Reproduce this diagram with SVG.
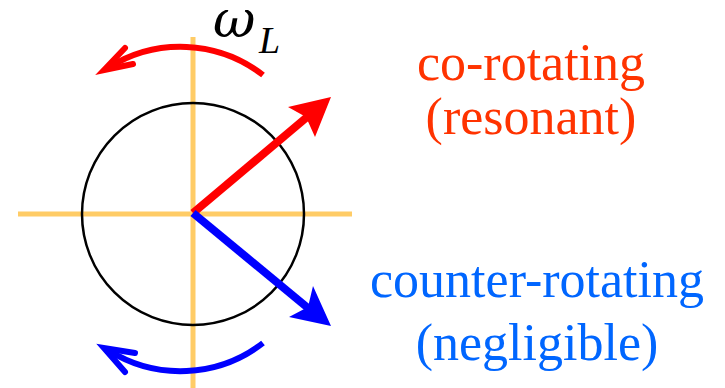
<svg xmlns="http://www.w3.org/2000/svg" width="725" height="388" viewBox="0 0 725 388">
<style>
.axis{stroke:#FFCC66;stroke-width:5;fill:none}
.lbl{font-family:"Liberation Serif","Times New Roman",Tinos,"DejaVu Serif",serif;font-size:52px;text-anchor:middle}
.arc{fill:none;stroke-width:6;stroke-linecap:butt}
</style>
<rect width="725" height="388" fill="#fff"/>
<g id="axes">
<line class="axis" x1="18" y1="214" x2="352" y2="214"/>
<line class="axis" x1="193" y1="37" x2="193" y2="388"/>
</g>
<g id="circle">
<circle cx="193" cy="214" r="111" fill="none" stroke="#000" stroke-width="2.5"/>
</g>
<g id="connectors">
<g id="co-vector">
<line x1="193" y1="213" x2="313" y2="112" stroke="#FF0000" stroke-width="8"/>
<polygon points="331,97 288,107 306,117 315,137" fill="#FF0000"/>
</g>
<g id="counter-vector">
<line x1="193" y1="213" x2="314" y2="313" stroke="#0000FF" stroke-width="8"/>
<polygon points="331,326 289,317 308,307 313,286" fill="#0000FF"/>
</g>
<g id="co-arc">
<path class="arc" stroke="#FF0000" d="M263,75 A135,135 0 0 0 108,68"/>
<polyline points="125,48 104,70 133,64" fill="none" stroke="#FF0000" stroke-width="6" stroke-linecap="round" stroke-linejoin="miter"/>
</g>
<g id="counter-arc">
<path class="arc" stroke="#0000FF" d="M263,343 A135,135 0 0 1 108,350"/>
<polyline points="135,353 104,348 125,372" fill="none" stroke="#0000FF" stroke-width="6" stroke-linecap="round" stroke-linejoin="miter"/>
</g>
</g>
<g id="omega-label">
<text x="213" y="37" font-family="'DejaVu Serif',serif" font-style="italic" font-size="52">ω</text>
<text x="259" y="53" font-family="'Liberation Serif','DejaVu Serif',serif" font-style="italic" font-size="38">L</text>
</g>
<g id="co-label">
<text class="lbl" x="531" y="80" fill="#FF3300">co-rotating</text>
<text class="lbl" x="531" y="134" fill="#FF3300">(resonant)</text>
</g>
<g id="counter-label">
<text class="lbl" x="537" y="297" fill="#0066FF">counter-rotating</text>
<text class="lbl" x="537" y="360" fill="#0066FF">(negligible)</text>
</g>
</svg>
